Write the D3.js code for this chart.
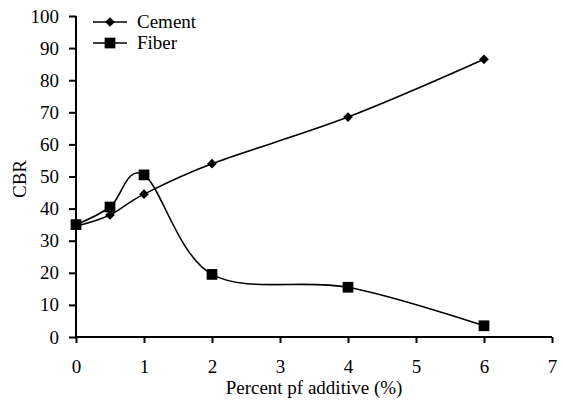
<!DOCTYPE html>
<html>
<head>
<meta charset="utf-8">
<script src="https://cdn.jsdelivr.net/npm/d3@7"></script>
<style>
  body { margin: 0; background: #fff; }
  text { font-family: "Liberation Serif", "Times New Roman", serif; fill: #000; }
</style>
</head>
<body>
<div class="canvas"></div>
<script>
// data
const additive = [0, 0.5, 1, 2, 4, 6];
const cement = [34.5, 38, 44.5, 54, 68.5, 86.5];
const fiber = [35, 40.5, 50.5, 19.5, 15.5, 3.5];
const xTicks = [0, 1, 2, 3, 4, 5, 6, 7];
const yTicks = [0, 10, 20, 30, 40, 50, 60, 70, 80, 90, 100];

const width = 562, height = 406;
const margin = { top: 16, right: 10, bottom: 69, left: 76 };
const graphWidth = 552 - margin.left;
const graphHeight = height - margin.top - margin.bottom;

const svg = d3
  .select(".canvas")
  .append("svg")
  .attr("width", width)
  .attr("height", height);

const graph = svg
  .append("g")
  .attr("transform", `translate(${margin.left}, ${margin.top})`);

//scales
const x = d3.scaleLinear().domain([0, 7]).range([0, graphWidth]);
const y = d3.scaleLinear().domain([0, 100]).range([graphHeight, 0]);

//axes
const xAxis = d3
  .axisBottom(x)
  .tickValues(xTicks)
  .tickFormat(d3.format("d"))
  .tickSize(6)
  .tickPadding(17);
const yAxis = d3
  .axisLeft(y)
  .tickValues(yTicks)
  .tickFormat(d3.format("d"))
  .tickSize(7)
  .tickPadding(10);

const xAxisGroup = graph
  .append("g")
  .attr("transform", `translate(0, ${graphHeight})`)
  .call(xAxis);
const yAxisGroup = graph.append("g").call(yAxis);

[xAxisGroup, yAxisGroup].forEach(g => {
  g.attr("font-family", null).attr("font-size", null);
  g.select(".domain").attr("stroke", "#000").attr("stroke-width", 2);
  g.selectAll(".tick line").attr("stroke", "#000").attr("stroke-width", 2);
  g.selectAll(".tick text")
    .style("font-family", "'Liberation Serif', serif")
    .style("font-size", "19px");
});
// plain axis lines without outer tick caps
yAxisGroup.select(".domain").attr("d", `M0,${graphHeight}V0`);
xAxisGroup.select(".domain").attr("d", `M0,0H${graphWidth}`);

//axis titles
svg
  .append("text")
  .attr("transform", `translate(26, ${margin.top + 163}) rotate(-90)`)
  .attr("text-anchor", "middle")
  .style("font-size", "19px")
  .text("CBR");

svg
  .append("text")
  .attr("x", 314)
  .attr("y", 394)
  .attr("text-anchor", "middle")
  .style("font-size", "19px")
  .text("Percent pf additive (%)");

//lines
const line = values =>
  d3
    .line()
    .x((d, i) => x(additive[i]))
    .y(d => y(d))
    .curve(d3.curveCatmullRom.alpha(0))(values);

graph
  .append("path")
  .attr("d", line(cement))
  .attr("fill", "none")
  .attr("stroke", "#000")
  .attr("stroke-width", 1.6);

graph
  .append("path")
  .attr("d", line(fiber))
  .attr("fill", "none")
  .attr("stroke", "#000")
  .attr("stroke-width", 1.6);

//markers
const diamond = d3.symbol().type(d3.symbolDiamond2).size(60);
const square = d3.symbol().type(d3.symbolSquare).size(115);

graph
  .selectAll(".cement-pt")
  .data(cement)
  .enter()
  .append("path")
  .attr("class", "cement-pt")
  .attr("d", diamond)
  .attr("transform", (d, i) => `translate(${x(additive[i])}, ${y(d)})`)
  .attr("fill", "#000");

graph
  .selectAll(".fiber-pt")
  .data(fiber)
  .enter()
  .append("path")
  .attr("class", "fiber-pt")
  .attr("d", square)
  .attr("transform", (d, i) => `translate(${x(additive[i])}, ${y(d)})`)
  .attr("fill", "#000");

//legend
const legend = svg.append("g").attr("transform", "translate(93, 22)");
const items = [
  { name: "Cement", sym: diamond },
  { name: "Fiber", sym: square }
];
items.forEach((item, i) => {
  const g = legend.append("g").attr("transform", `translate(0, ${i * 21})`);
  g.append("line")
    .attr("x1", 0)
    .attr("x2", 34)
    .attr("stroke", "#000")
    .attr("stroke-width", 1.6);
  g.append("path")
    .attr("d", item.sym)
    .attr("transform", "translate(17, 0)")
    .attr("fill", "#000");
  g.append("text")
    .attr("x", 44)
    .attr("y", 6)
    .style("font-size", "19px")
    .text(item.name);
});
</script>
</body>
</html>
